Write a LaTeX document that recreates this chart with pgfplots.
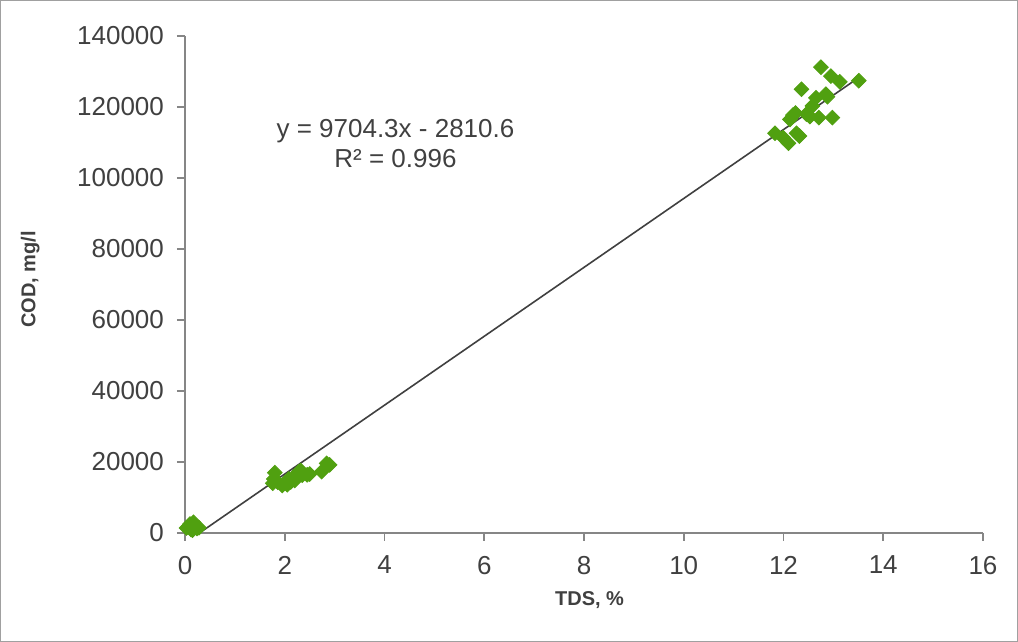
\documentclass[border=0pt]{standalone}
\usepackage{pgfplots}
\pgfplotsset{compat=1.18}
\usepackage{fontspec}
\setmainfont{Liberation Sans}
\definecolor{ptgreen}{RGB}{80,160,16}
\definecolor{txtgray}{RGB}{64,64,64}
\definecolor{axgray}{RGB}{134,134,134}
\definecolor{framegray}{RGB}{160,160,160}

\pgfplotstableread{
x y
11.83 112600
11.99 111400
12.10 109800
12.26 112600
12.32 111800
12.13 116500
12.19 117700
12.24 118300
12.36 125000
12.46 118000
12.53 117300
12.58 120300
12.65 122600
12.71 117000
12.75 131200
12.85 123600
12.88 122900
12.95 128700
12.98 117000
13.13 127100
13.51 127400
1.80 17000
1.78 15200
1.76 14000
1.86 14300
1.95 13400
2.00 14100
2.05 13600
2.08 15200
2.12 14400
2.18 15800
2.20 14800
2.25 16200
2.28 17200
2.32 17600
2.35 16300
2.45 16400
2.50 16600
2.74 17300
2.84 19600
2.90 19200
0.03 1400
0.08 2000
0.12 1000
0.17 3000
0.20 1900
0.24 1300
0.28 1500
0.10 2500
0.15 800
}\datatable

\begin{document}
\begin{tikzpicture}
\draw[framegray, line width=0.6pt] (-92.2pt,-54.2pt) rectangle (416.2pt,266.2pt);
\begin{axis}[
  at={(0,0)}, anchor=origin,
  scale only axis,
  width=399pt, height=248.5pt,
  xmin=0, xmax=16, ymin=0, ymax=140000,
  xtick={0,2,...,16},
  ytick={0,20000,...,140000},
  axis x line=bottom, axis y line=left,
  axis line style={-, axgray, line width=0.8pt},
  tick style={axgray, line width=0.8pt},
  tick align=outside,
  major tick length=4pt,
  x tick label style={yshift=-4pt},
  y tick label style={xshift=-3pt},
  tick label style={font=\fontsize{13}{15}\selectfont, text=txtgray},
  /pgf/number format/assume math mode=true,
  /pgf/number format/1000 sep={},
  /pgf/number format/fixed,
  scaled y ticks=false,
  xlabel={\textbf{TDS, \%}},
  ylabel={\textbf{COD, mg/l}},
  label style={font=\fontsize{10}{12}\selectfont, text=txtgray},
  xlabel style={at={(axis description cs:0.507,-0.135)}, anchor=center},
  ylabel style={at={(axis description cs:-0.194,0.51)}, anchor=center, rotate=0},
  clip=false,
]
\addplot[only marks, mark=square*, mark size=2.6pt,
  mark options={fill=ptgreen, draw=ptgreen, rotate=45}] table[x=x, y=y] {\datatable};
% linear fit y = 9704.3x - 2810.6 over the data range
\addplot[black!75, line width=0.8pt] coordinates {(0.2896,0) (13.51,128294)};
\node[font=\fontsize{13}{15}\selectfont, text=txtgray, align=center]
  at (axis cs:4.22,109600) {y = 9704.3x - 2810.6\\R² = 0.996};
\end{axis}
\end{tikzpicture}
\end{document}
